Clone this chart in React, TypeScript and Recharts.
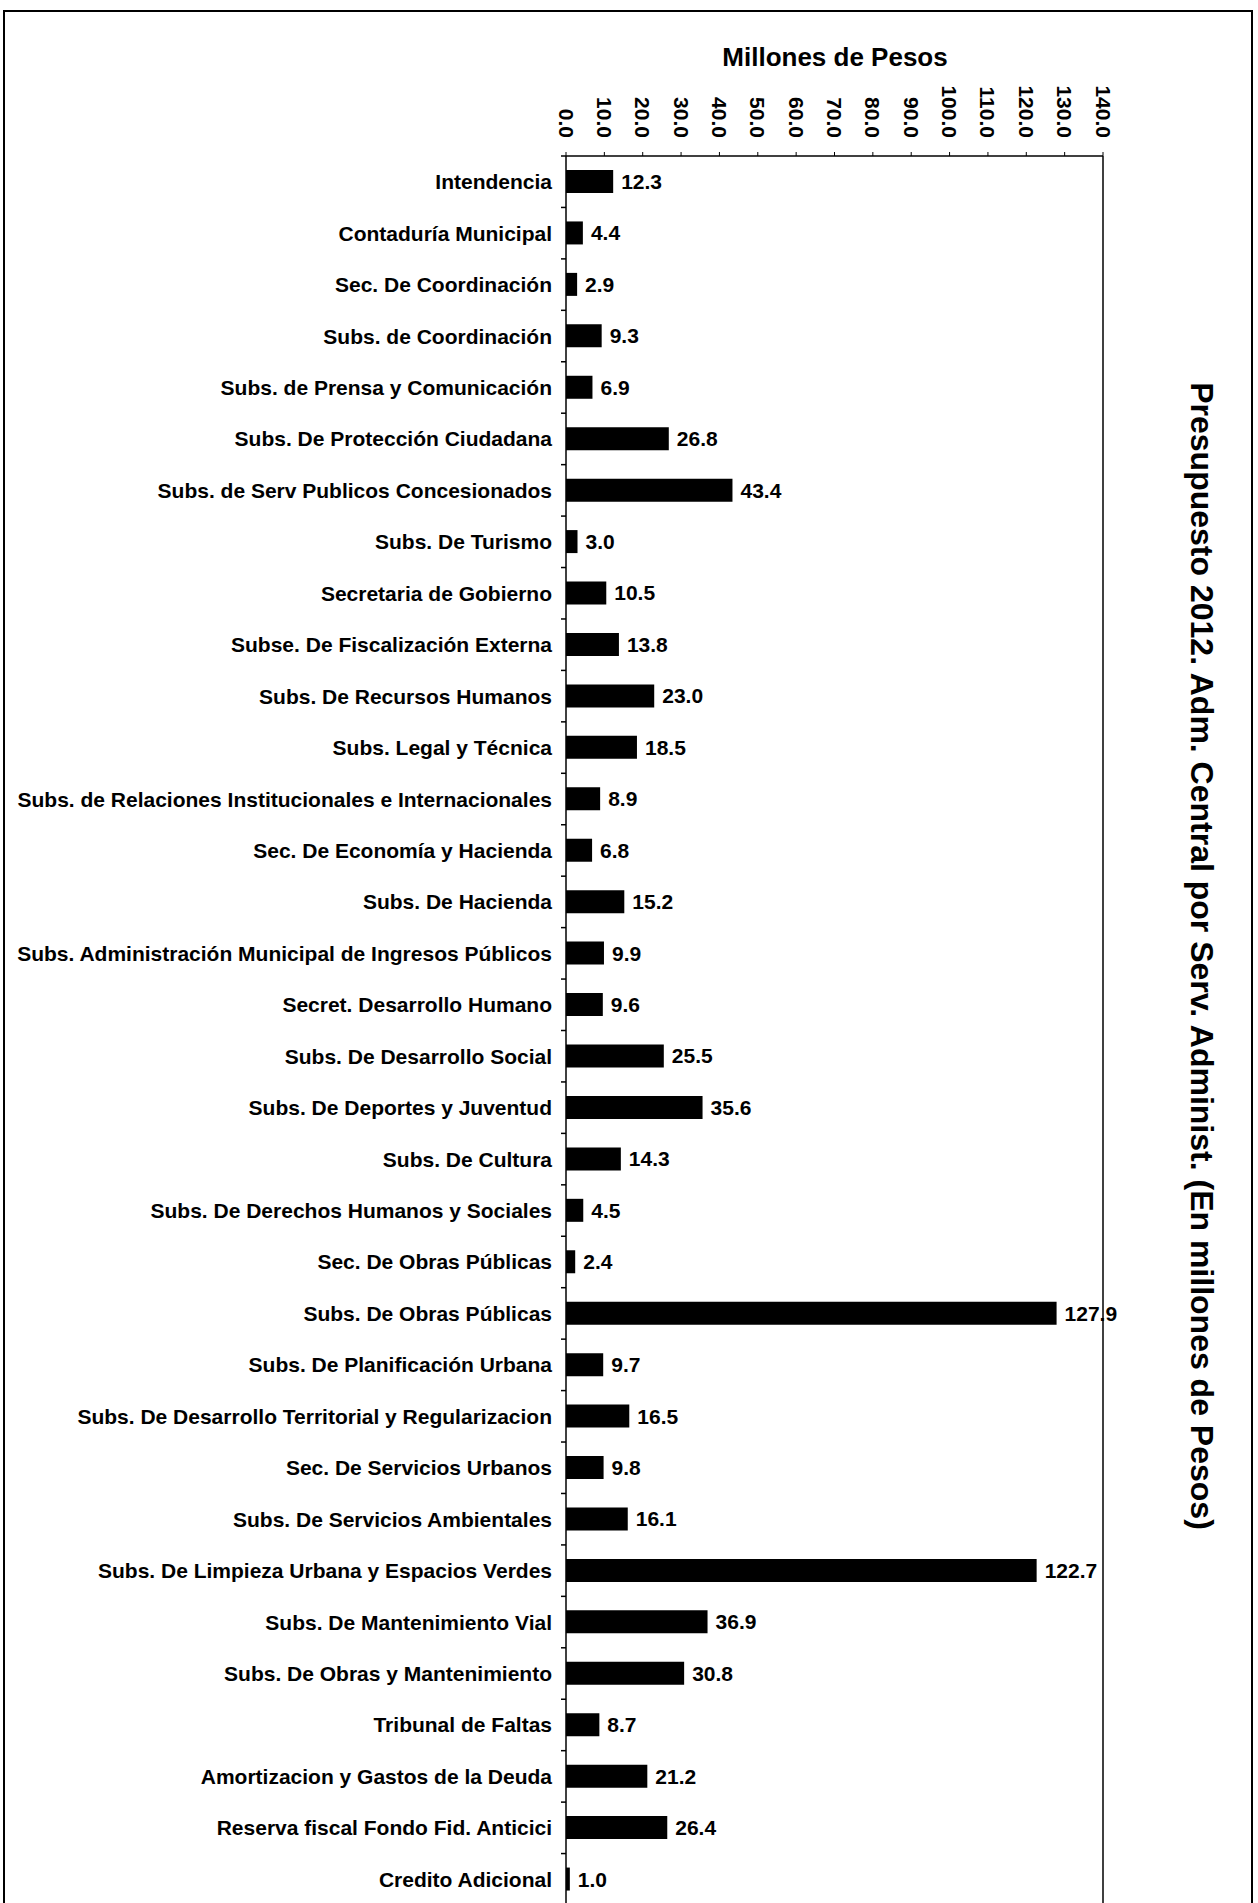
import React from "react";
import { BarChart, Bar, XAxis, YAxis, ReferenceLine, LabelList } from "recharts";

const categories: string[] = [
  "Intendencia",
  "Contaduría Municipal",
  "Sec. De Coordinación",
  "Subs. de Coordinación",
  "Subs. de Prensa y Comunicación",
  "Subs. De Protección Ciudadana",
  "Subs. de Serv Publicos Concesionados",
  "Subs. De Turismo",
  "Secretaria de Gobierno",
  "Subse. De Fiscalización Externa",
  "Subs. De Recursos Humanos",
  "Subs. Legal y Técnica",
  "Subs. de Relaciones Institucionales e Internacionales",
  "Sec. De Economía y Hacienda",
  "Subs. De Hacienda",
  "Subs. Administración Municipal de Ingresos Públicos",
  "Secret. Desarrollo Humano",
  "Subs. De Desarrollo Social",
  "Subs. De Deportes y Juventud",
  "Subs. De Cultura",
  "Subs. De Derechos Humanos y Sociales",
  "Sec. De Obras Públicas",
  "Subs. De Obras Públicas",
  "Subs. De Planificación Urbana",
  "Subs. De Desarrollo Territorial y Regularizacion",
  "Sec. De Servicios Urbanos",
  "Subs. De Servicios Ambientales",
  "Subs. De Limpieza Urbana y Espacios Verdes",
  "Subs. De Mantenimiento Vial",
  "Subs. De Obras y Mantenimiento",
  "Tribunal de Faltas",
  "Amortizacion y Gastos de la Deuda",
  "Reserva fiscal Fondo Fid. Anticici",
  "Credito Adicional",
];

const values: number[] = [
  12.3, 4.4, 2.9, 9.3, 6.9, 26.8, 43.4, 3.0, 10.5, 13.8, 23.0, 18.5, 8.9, 6.8,
  15.2, 9.9, 9.6, 25.5, 35.6, 14.3, 4.5, 2.4, 127.9, 9.7, 16.5, 9.8, 16.1,
  122.7, 36.9, 30.8, 8.7, 21.2, 26.4, 1.0,
];

const xTicks: number[] = [0, 10, 20, 30, 40, 50, 60, 70, 80, 90, 100, 110, 120, 130, 140];

const axisTitle = "Millones de Pesos";
const sideTitle = "Presupuesto 2012. Adm. Central por Serv. Administ. (En millones de Pesos)";

const data = categories.map((name, i) => ({ name, value: values[i] }));

const FONT = "'Liberation Sans', Arial, Helvetica, sans-serif";
const FS = 21;

const XTick = (props: any) => {
  const { x, y, payload } = props;
  return (
    <text
      x={x}
      y={y}
      transform={`rotate(90, ${x}, ${y})`}
      textAnchor="end"
      dominantBaseline="central"
      fontSize={FS}
      fontWeight={700}
      fontFamily={FONT}
      fill="#000"
    >
      {Number(payload.value).toFixed(1)}
    </text>
  );
};

const YTick = (props: any) => {
  const { x, y, payload } = props;
  const half = payload && typeof payload.offset === "number" && payload.offset > 0 ? payload.offset : 25.7;
  const axisX = x + 14;
  return (
    <g>
      <line x1={axisX - 5} x2={axisX} y1={y - half} y2={y - half} stroke="#000" strokeWidth={1.5} />
      <text
        x={x}
        y={y}
        textAnchor="end"
        dominantBaseline="central"
        fontSize={FS}
        fontWeight={700}
        fontFamily={FONT}
        fill="#000"
      >
        {payload.value}
      </text>
    </g>
  );
};

const lineStyle = (s: React.CSSProperties): React.CSSProperties => ({
  position: "absolute",
  background: "#000",
  ...s,
});

export default function App() {
  return (
    <div
      style={{
        position: "relative",
        width: 1258,
        height: 1903,
        overflow: "hidden",
        background: "#fff",
        fontFamily: FONT,
      }}
    >
      <style>{"html,body{margin:0;padding:0;}"}</style>
      <div style={{ position: "absolute", left: 0, top: 0 }}>
        <BarChart
          width={1258}
          height={1905}
          data={data}
          layout="vertical"
          margin={{ top: 56, right: 155, bottom: 0, left: 0 }}
          barCategoryGap={0}
        >
          <XAxis
            type="number"
            orientation="top"
            domain={[0, 140]}
            ticks={xTicks}
            interval={0}
            height={100}
            tick={<XTick />}
            tickSize={4}
            tickMargin={14}
            axisLine={{ stroke: "#000", strokeWidth: 1.5 }}
            tickLine={{ stroke: "#000", strokeWidth: 1 }}
            allowDataOverflow
          />
          <YAxis
            type="category"
            dataKey="name"
            width={566}
            interval={0}
            tick={<YTick />}
            tickSize={0}
            tickMargin={14}
            tickLine={false}
            axisLine={{ stroke: "#000", strokeWidth: 1.5 }}
          />
          <ReferenceLine x={140} stroke="#000" strokeWidth={1.5} ifOverflow="visible" />
          <Bar dataKey="value" fill="#000" barSize={23} isAnimationActive={false}>
            <LabelList
              dataKey="value"
              position="right"
              offset={8}
              formatter={(v: any) => Number(v).toFixed(1)}
              fill="#000"
              fontSize={FS}
              fontWeight={700}
              fontFamily={FONT}
            />
          </Bar>
        </BarChart>
      </div>
      <div style={lineStyle({ left: 3, top: 10, width: 1250, height: 2 })} />
      <div style={lineStyle({ left: 3, top: 10, width: 2, height: 1893 })} />
      <div style={lineStyle({ left: 1251, top: 10, width: 2, height: 1893 })} />
      <div
        style={{
          position: "absolute",
          left: 835,
          top: 57,
          transform: "translate(-50%, -50%)",
          whiteSpace: "nowrap",
          fontSize: 26,
          fontWeight: 700,
          color: "#000",
        }}
      >
        {axisTitle}
      </div>
      <div
        style={{
          position: "absolute",
          left: 1201,
          top: 956,
          transform: "translate(-50%, -50%) rotate(90deg)",
          whiteSpace: "nowrap",
          fontSize: 32,
          fontWeight: 700,
          color: "#000",
        }}
      >
        {sideTitle}
      </div>
    </div>
  );
}
